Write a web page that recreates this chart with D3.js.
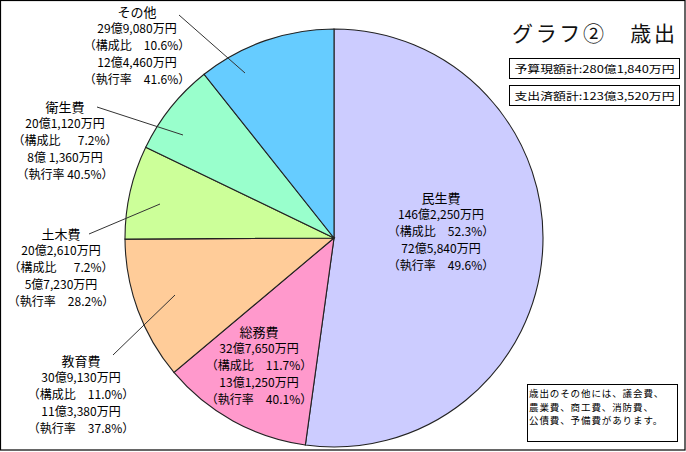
<!DOCTYPE html>
<html><head><meta charset="utf-8">
<script src="https://cdn.jsdelivr.net/npm/d3@7"></script>
<style>
html,body{margin:0;padding:0;background:#fff;}
svg{display:block;font-family:"Noto Sans CJK JP","Noto Sans",sans-serif;}
text{white-space:pre;}
</style></head>
<body>
<script>
// ---- data ----
const categories = ["民生費","総務費","教育費","土木費","衛生費","その他"];
const budget = [146.225, 32.765, 30.913, 20.261, 20.112, 29.908]; // 億円
const budgetLabels = ["146億2,250万円","32億7,650万円","30億9,130万円","20億2,610万円","20億1,120万円","29億9,080万円"];
const shareLabels = ["52.3%","11.7%","11.0%","7.2%","7.2%","10.6%"];
const spentLabels = ["72億5,840万円","13億1,250万円","11億3,380万円","5億7,230万円","8億 1,360万円","12億4,460万円"];
const rateLabels = ["49.6%","40.1%","37.8%","28.2%","40.5%","41.6%"];
const colors = ["#CCCCFF","#FF99CC","#FFCC99","#CCFF99","#99FFCC","#66CCFF"];
const titleText = "グラフ②　歳出";
const totalBudgetText = "予算現額計:280億1,840万円";
const totalSpentText = "支出済額計:123億3,520万円";
const noteLines = ["歳出のその他には、議会費、","農業費、商工費、消防費、","公債費、予備費があります。"];

// ---- layout ----
const W = 686, H = 452;
const cx = 334, cy = 238, R = 209;
const labelLayout = [
  {x:441, y:198, leader:null},
  {x:259, y:332, leader:null},
  {x:81,  y:361, leader:[[113,355],[175,295]]},
  {x:61,  y:234, leader:[[89,234],[160,204]]},
  {x:65,  y:107, leader:[[97,107],[183,135]]},
  {x:137, y:12,  leader:[[179,15],[245,73]]}
];

const svg = d3.select("body").append("svg").attr("width", W).attr("height", H);

const pie = d3.pie().sort(null).value(d => d)(budget);
const arc = d3.arc().innerRadius(0).outerRadius(R);

const g = svg.append("g").attr("transform", `translate(${cx},${cy})`);
g.selectAll("path").data(pie).join("path")
  .attr("d", arc)
  .attr("fill", (d,i) => colors[i])
  .attr("stroke", "#222")
  .attr("stroke-width", 1.1);

svg.selectAll("line.leader").data(labelLayout.filter(d => d.leader)).join("line")
  .attr("class","leader")
  .attr("x1", d => d.leader[0][0]).attr("y1", d => d.leader[0][1])
  .attr("x2", d => d.leader[1][0]).attr("y2", d => d.leader[1][1])
  .attr("stroke", "#333").attr("stroke-width", 1);

categories.forEach((c, i) => {
  const L = labelLayout[i];
  const share = shareLabels[i].length < 5 ? "  " + shareLabels[i] : shareLabels[i];
  const lines = [
    c,
    budgetLabels[i],
    "（構成比　" + share + "）",
    spentLabels[i],
    (i === 4 ? "（執行率 " : "（執行率　") + rateLabels[i] + "）"
  ];
  const t = svg.append("text")
    .attr("text-anchor","middle")
    .attr("fill", "#000");
  lines.forEach((s, k) => {
    t.append("tspan").attr("x", L.x).attr("y", L.y + 4.5 + k * 16.8)
      .attr("font-size", k === 0 ? 13 : 12)
      .text(s);
  });
});

svg.append("text").attr("x", 512).attr("y", 41)
  .attr("font-size", 21).attr("fill", "#111")
  .attr("textLength", 163).attr("lengthAdjust","spacing")
  .text(titleText);

[[totalBudgetText, 58], [totalSpentText, 85]].forEach(([s, y]) => {
  svg.append("rect").attr("x", 509.5).attr("y", y + 0.5).attr("width", 170).attr("height", 20)
    .attr("fill", "#fff").attr("stroke", "#000").attr("stroke-width", 1);
  svg.append("text").attr("x", 594.5).attr("y", y + 14.5).attr("text-anchor","middle")
    .attr("font-size", 10.5).attr("textLength", 160).attr("lengthAdjust","spacingAndGlyphs").text(s);
});

svg.append("rect").attr("x", 527.5).attr("y", 384.5).attr("width", 150).attr("height", 57)
  .attr("fill", "#fff").attr("stroke", "#000").attr("stroke-width", 1);
noteLines.forEach((s, k) => {
  svg.append("text").attr("x", 529).attr("y", 397 + k * 13.5)
    .attr("font-size", 9.5).attr("letter-spacing", 0.9).text(s);
});

svg.append("rect").attr("x", 0.5).attr("y", 0.5).attr("width", 684.5).attr("height", 449.5)
  .attr("fill", "none").attr("stroke", "#000").attr("stroke-width", 1.2);
</script>
</body></html>
